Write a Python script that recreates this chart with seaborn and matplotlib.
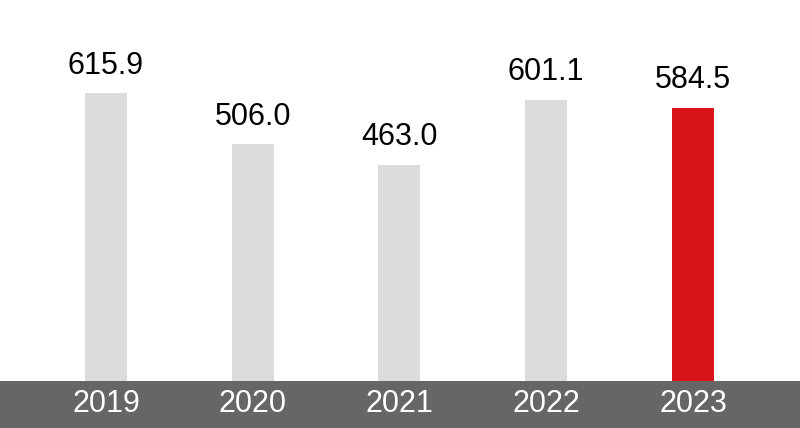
import numpy as np
import pandas as pd
import matplotlib
matplotlib.use('Agg')
import matplotlib.pyplot as plt
import seaborn as sns

# -------------------- DATA --------------------
years = ['2019', '2020', '2021', '2022', '2023']
values = [615.9, 506.0, 463.0, 601.1, 584.5]
bar_colors = ['#dcdcde', '#dcdcde', '#dcdcde', '#dcdcde', '#d7141a']

df = pd.DataFrame({'year': years, 'value': values})

# -------------------- PLOT --------------------
sns.set_style('white')
plt.rcParams['font.family'] = ['Liberation Sans', 'DejaVu Sans']

fig = plt.figure(figsize=(8, 4.28), dpi=100)
ax = fig.add_axes([0, 0, 1, 1])

sns.barplot(data=df, x='year', y='value', hue='year', palette=bar_colors,
            width=0.286, legend=False, ax=ax, saturation=1, linewidth=0)

y_bottom, y_top = -100.5, 814.8
ax.set_ylim(y_bottom, y_top)
ax.set_xlim(-0.722, 4.729)

# dark band under the bars with the year labels
ax.axhspan(y_bottom, 0, color='#666666', zorder=0.5, linewidth=0)
for i, yr in enumerate(years):
    ax.text(i, -50, yr, color='white', fontsize=22,
            ha='center', va='center')

for cont in ax.containers:
    ax.bar_label(cont, fmt='%.1f', padding=9, fontsize=22, color='black')

ax.axis('off')
fig.savefig('out.png', dpi=100)
